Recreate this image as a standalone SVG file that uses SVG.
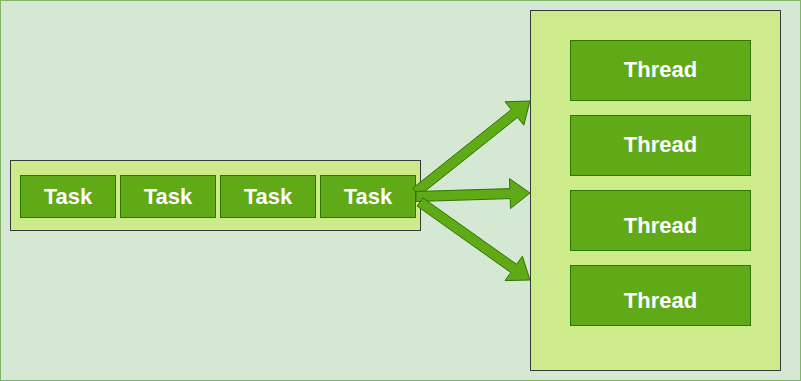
<svg xmlns="http://www.w3.org/2000/svg" width="801" height="381" viewBox="0 0 801 381">
<style>
.bg{fill:#d5e8d4;stroke:#82b366;stroke-width:1}
.cont{fill:#cdeb8b;stroke:#36393d;stroke-width:1}
.box{fill:#60a917;stroke:#2d7600;stroke-width:1}
.arrow{fill:#60a917;stroke:#2d7600;stroke-width:1;stroke-linejoin:miter}
.lbl{font-family:"Liberation Sans",Arial,sans-serif;font-weight:bold;font-size:22px;fill:#ffffff;text-anchor:middle}
</style>
<rect class="bg" x="0.5" y="0.5" width="800" height="380"/>
<g id="taskQueue">
<rect class="cont" x="10.5" y="160.5" width="410" height="70"/>
</g>
<g id="task1"><rect class="box" x="20.5" y="175.5" width="95" height="42"/><text class="lbl" x="68" y="203.5">Task</text></g>
<g id="task2"><rect class="box" x="120.5" y="175.5" width="95" height="42"/><text class="lbl" x="168" y="203.5">Task</text></g>
<g id="task3"><rect class="box" x="220.5" y="175.5" width="95" height="42"/><text class="lbl" x="268" y="203.5">Task</text></g>
<g id="task4"><rect class="box" x="320.5" y="175.5" width="95" height="42"/><text class="lbl" x="368" y="203.5">Task</text></g>
<g id="threadPool">
<rect class="cont" x="530.5" y="10.5" width="250" height="360"/>
</g>
<g id="thread1"><rect class="box" x="570.5" y="40.5" width="180" height="60"/><text class="lbl" x="660.5" y="77">Thread</text></g>
<g id="thread2"><rect class="box" x="570.5" y="115.5" width="180" height="60"/><text class="lbl" x="660.5" y="152">Thread</text></g>
<g id="thread3"><rect class="box" x="570.5" y="190.5" width="180" height="60"/><text class="lbl" x="660.5" y="233">Thread</text></g>
<g id="thread4"><rect class="box" x="570.5" y="265.5" width="180" height="60"/><text class="lbl" x="660.5" y="307.5">Thread</text></g>
<g id="connectors">
<polygon class="arrow" points="419.1,195.9 517.5,117.4 523.8,125.2 530,101 505,101.8 511.3,109.6 412.9,188.1"/>
<polygon class="arrow" points="416.15,201.5 510.15,198.6 510.5,208.6 530,193 509.5,178.6 509.85,188.6 415.85,191.5"/>
<polygon class="arrow" points="417.1,206.1 510.8,272.5 505,280.6 530,280 522.4,256.2 516.6,264.3 422.9,197.9"/>
</g>
</svg>
